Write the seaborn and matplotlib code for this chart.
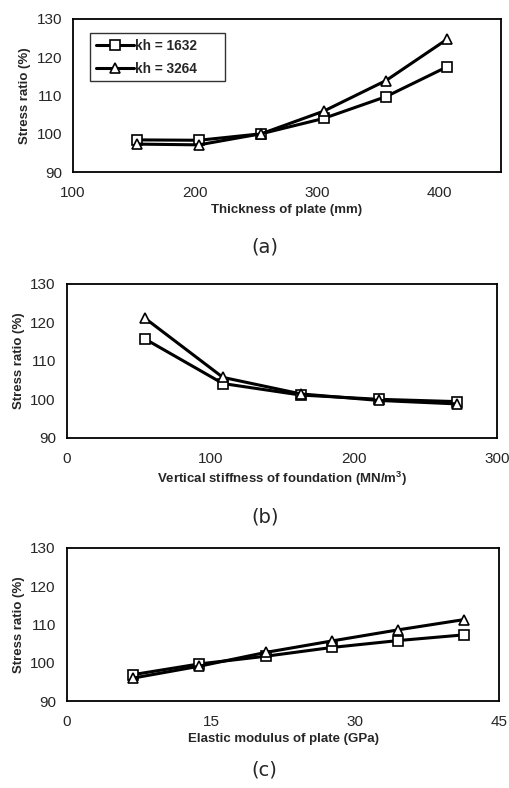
import numpy as np
import pandas as pd
import matplotlib
matplotlib.use("Agg")
import matplotlib.pyplot as plt
import seaborn as sns

# (a) thickness of plate
thick_mm = [152, 203, 254, 305, 356, 406]
thick_kh1632 = [98.4, 98.3, 100.0, 104.0, 109.7, 117.5]
thick_kh3264 = [97.3, 97.1, 100.0, 105.9, 113.9, 124.7]

# (b) vertical stiffness of foundation
kv = [54.4, 108.8, 163.2, 217.6, 272.0]
kv_kh1632 = [115.7, 104.1, 101.1, 100.0, 99.4]
kv_kh3264 = [121.1, 105.7, 101.4, 99.7, 98.8]

# (c) elastic modulus of plate
modulus = [6.9, 13.8, 20.7, 27.6, 34.5, 41.4]
mod_kh1632 = [96.9, 99.7, 101.7, 104.0, 105.8, 107.3]
mod_kh3264 = [96.0, 99.1, 102.7, 105.7, 108.6, 111.3]

series_labels = ["kh = 1632", "kh = 3264"]
series_markers = ["s", "^"]

sns.set_style("white")
plt.rcParams["font.family"] = ["Liberation Sans", "DejaVu Sans"]

fig = plt.figure(figsize=(5.09, 7.88), dpi=100)

panels = [
    dict(x=thick_mm, ys=[thick_kh1632, thick_kh3264], rect=[0.1434, 0.7817, 0.8406, 0.1942],
         xlim=(100, 450), xticks=[100, 200, 300, 400],
         xlabel="Thickness of plate (mm)", cap="(a)", cap_y=0.6866, legend=True),
    dict(x=kv, ys=[kv_kh1632, kv_kh3264], rect=[0.1316, 0.4445, 0.8448, 0.1951],
         xlim=(0, 300), xticks=[0, 100, 200, 300],
         xlabel="Vertical stiffness of foundation (MN/m$^\\mathregular{3}$)", cap="(b)", cap_y=0.344, legend=False),
    dict(x=modulus, ys=[mod_kh1632, mod_kh3264], rect=[0.1316, 0.1104, 0.8488, 0.1942],
         xlim=(0, 45), xticks=[0, 15, 30, 45],
         xlabel="Elastic modulus of plate (GPa)", cap="(c)", cap_y=0.0228, legend=False),
]

for p in panels:
    ax = fig.add_axes(p["rect"])
    frames = []
    for lab, ys in zip(series_labels, p["ys"]):
        frames.append(pd.DataFrame({"x": p["x"], "y": ys, "series": lab}))
    df = pd.concat(frames, ignore_index=True)
    sns.lineplot(data=df, x="x", y="y", hue="series", style="series",
                 palette=["black", "black"], markers=series_markers, dashes=False,
                 linewidth=2.2, markersize=7, markerfacecolor="white",
                 markeredgecolor="black", markeredgewidth=1.2, ax=ax,
                 legend=p["legend"])
    ax.set_xlim(*p["xlim"])
    ax.set_ylim(90, 130)
    ax.set_xticks(p["xticks"])
    ax.set_yticks([90, 100, 110, 120, 130])
    ax.tick_params(axis="both", direction="in", length=3, width=1, labelsize=11)
    ax.tick_params(axis="x", pad=10)
    ax.tick_params(axis="y", pad=8)
    for s in ax.spines.values():
        s.set_color("black")
        s.set_linewidth(1.3)
    ax.set_xlabel(p["xlabel"], fontsize=9.5, fontweight="bold", labelpad=3)
    ax.set_ylabel("Stress ratio (%)", fontsize=9.5, fontweight="bold", labelpad=4)
    if p["legend"]:
        leg = ax.legend(loc="upper left", bbox_to_anchor=(0.04, 0.908, 0.315, 0),
                        mode="expand", frameon=True,
                        fancybox=False, edgecolor="black", fontsize=9.8,
                        handlelength=2.8, handletextpad=0.1, borderpad=0.4,
                        labelspacing=0.7, borderaxespad=0)
        leg.get_frame().set_linewidth(1.0)
        for t in leg.get_texts():
            t.set_fontweight("bold")
    fig.text(0.52, p["cap_y"], p["cap"], ha="center", va="center", fontsize=14,
             family=["DejaVu Sans"])

fig.savefig("out.png", dpi=100)
